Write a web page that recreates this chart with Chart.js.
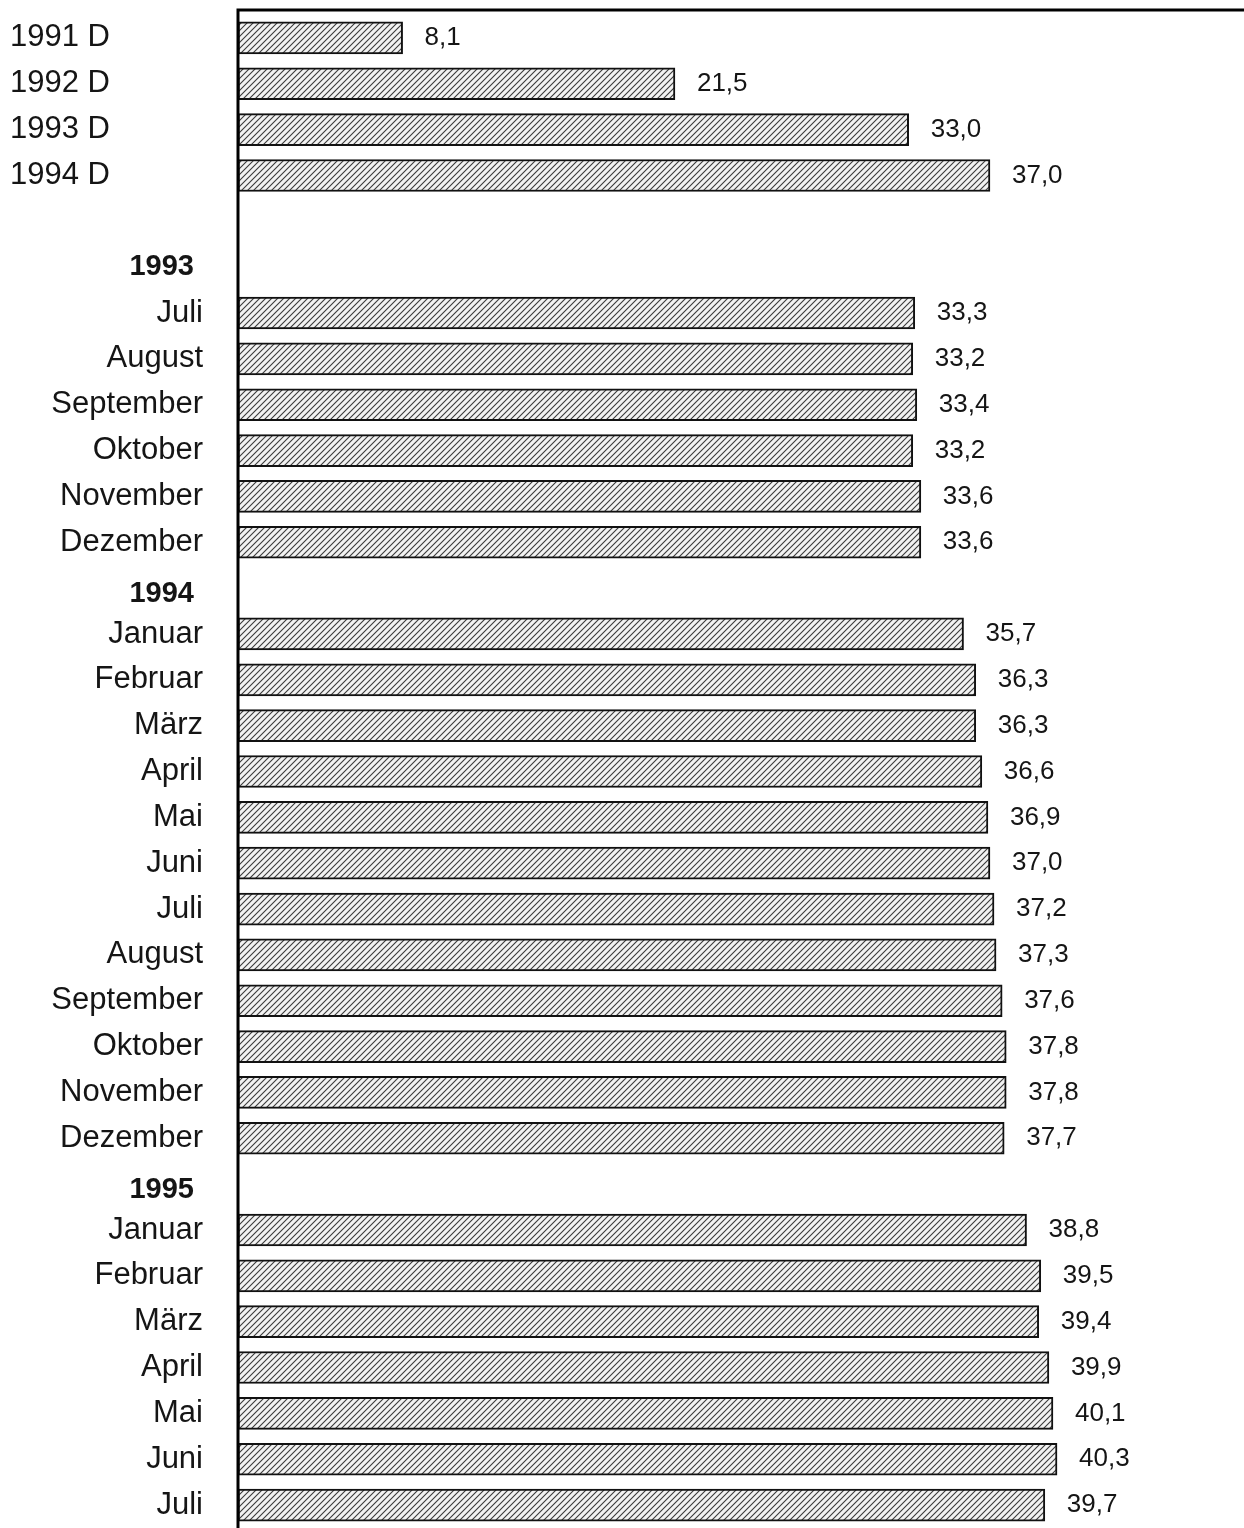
<!DOCTYPE html>
<html>
<head>
<meta charset="utf-8">
<script src="https://cdn.jsdelivr.net/npm/chart.js@4/dist/chart.umd.min.js"></script>
<style>
  html, body { margin: 0; padding: 0; background: #fff; }
  #wrap { width: 1244px; height: 1528px; position: relative; }
</style>
</head>
<body>
<div id="wrap"><canvas id="grafico"></canvas></div>
<script>
// Jahresdurchschnitte
const jahreLabels = ["1991 D", "1992 D", "1993 D", "1994 D"];
const jahreWerte = [8.1, 21.5, 33.0, 37.0];

// Monate 1993 (Juli bis Dezember)
const monate1993 = ["Juli", "August", "September", "Oktober", "November", "Dezember"];
const werte1993 = [33.3, 33.2, 33.4, 33.2, 33.6, 33.6];

// Monate 1994
const monate1994 = ["Januar", "Februar", "März", "April", "Mai", "Juni",
                    "Juli", "August", "September", "Oktober", "November", "Dezember"];
const werte1994 = [35.7, 36.3, 36.3, 36.6, 36.9, 37.0, 37.2, 37.3, 37.6, 37.8, 37.8, 37.7];

// Monate 1995 (Januar bis Juli)
const monate1995 = ["Januar", "Februar", "März", "April", "Mai", "Juni", "Juli"];
const werte1995 = [38.8, 39.5, 39.4, 39.9, 40.1, 40.3, 39.7];

// Zeilen zusammensetzen: Leerzeile und Jahresüberschriften ohne Balken
const kategorien = [];
const werte = [];
const art = []; // "jahr", "leer", "kopf", "monat"

jahreLabels.forEach((l, i) => { kategorien.push(l); werte.push(jahreWerte[i]); art.push("jahr"); });
kategorien.push(""); werte.push(null); art.push("leer");
[["1993", monate1993, werte1993], ["1994", monate1994, werte1994], ["1995", monate1995, werte1995]]
  .forEach(([kopf, monate, w]) => {
    kategorien.push(kopf); werte.push(null); art.push("kopf");
    monate.forEach((m, i) => { kategorien.push(m); werte.push(w[i]); art.push("monat"); });
  });

function schraffur() {
  const c = document.createElement("canvas");
  c.width = 6; c.height = 6;
  const g = c.getContext("2d");
  g.fillStyle = "#f2f2f2";
  g.fillRect(0, 0, 6, 6);
  g.strokeStyle = "#3a3a3a";
  g.lineWidth = 1.1;
  g.beginPath();
  g.moveTo(-1, 7); g.lineTo(7, -1);
  g.moveTo(-1, 1); g.lineTo(1, -1);
  g.moveTo(5, 7); g.lineTo(7, 5);
  g.stroke();
  return g.createPattern(c, "repeat");
}

const beschriftung = {
  id: "beschriftung",
  afterDraw(chart) {
    const ctx = chart.ctx;
    const area = chart.chartArea;
    const y = chart.scales.y;
    ctx.save();

    // Achse links und Rahmen oben
    ctx.strokeStyle = "#000";
    ctx.lineWidth = 3;
    ctx.beginPath();
    ctx.moveTo(area.left, 9);
    ctx.lineTo(area.left, area.bottom);
    ctx.moveTo(area.left - 1.5, 10);
    ctx.lineTo(1244, 10);
    ctx.stroke();

    // Kategorien
    ctx.fillStyle = "#151515";
    ctx.textBaseline = "middle";
    kategorien.forEach((l, i) => {
      const py = y.getPixelForValue(i);
      if (art[i] === "jahr") {
        ctx.font = "31px 'Liberation Sans', Arial, sans-serif";
        ctx.textAlign = "left";
        ctx.fillText(l, 10, py);
      } else if (art[i] === "kopf") {
        // Überschriften nach Monatsblöcken sitzen etwas tiefer
        const versatz = art[i - 1] === "monat" ? 6 : 0;
        ctx.font = "bold 29px 'Liberation Sans', Arial, sans-serif";
        ctx.textAlign = "right";
        ctx.fillText(l, 194, py + versatz);
      } else if (art[i] === "monat") {
        ctx.font = "31px 'Liberation Sans', Arial, sans-serif";
        ctx.textAlign = "right";
        ctx.fillText(l, 203, py);
      }
    });

    // Werte
    const meta = chart.getDatasetMeta(0);
    ctx.font = "26px 'Liberation Sans', Arial, sans-serif";
    ctx.textAlign = "left";
    meta.data.forEach((bar, i) => {
      if (werte[i] == null) return;
      ctx.fillText(werte[i].toFixed(1).replace(".", ","), bar.x + 22, bar.y);
    });
    ctx.restore();
  }
};

new Chart(document.getElementById("grafico"), {
  type: "bar",
  data: {
    labels: kategorien,
    datasets: [{
      data: werte,
      backgroundColor: schraffur(),
      borderColor: "#111",
      borderWidth: 2,
      borderSkipped: false,
      barThickness: 32
    }]
  },
  options: {
    indexAxis: "y",
    responsive: true,
    maintainAspectRatio: false,
    animation: false,
    layout: { padding: { left: 238, top: 15, right: 0, bottom: 0 } },
    plugins: {
      legend: { display: false },
      tooltip: { enabled: false }
    },
    scales: {
      x: { display: false, min: 0, max: 49.5 },
      y: { display: false }
    }
  },
  plugins: [beschriftung]
});
</script>
</body>
</html>
